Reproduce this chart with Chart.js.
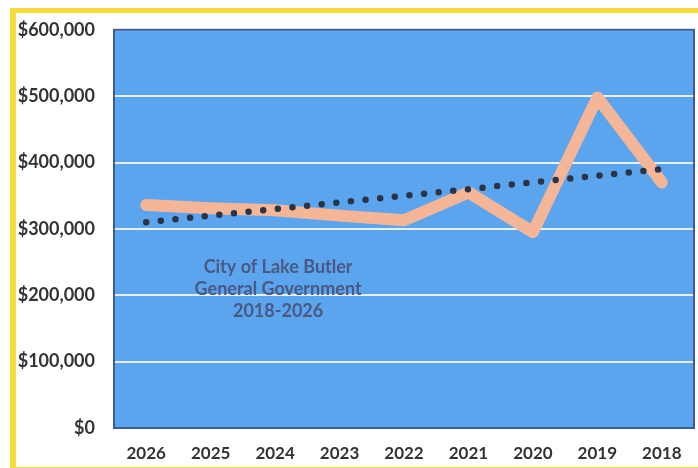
<!DOCTYPE html>
<html>
<head>
<meta charset="utf-8">
<script src="https://cdn.jsdelivr.net/npm/chart.js@4"></script>
<style>
  html, body { margin: 0; padding: 0; background: #fff; }
  #wrap { position: relative; width: 698px; height: 468px; overflow: hidden; }
  #frame {
    position: absolute; left: 10px; top: 8px; width: 720px; height: 454px;
    border-left: 6px solid #f6dc3a; border-top: 5px solid #f6dc3a; border-bottom: 5px solid #f6dc3a;
  }
  #chart { position: absolute; left: 0; top: 0; }
</style>
</head>
<body>
<div id="wrap">
  <div id="frame"></div>
  <canvas id="chart" width="698" height="468"></canvas>
</div>
<script>
const years = ["2026", "2025", "2024", "2023", "2022", "2021", "2020", "2019", "2018"];
const spending = [336000, 331000, 328000, 320000, 313000, 355000, 295000, 498000, 370000];
// trend line only has its two ends, the rest is spanned
const trend = [310000, null, null, null, null, null, null, null, 390000];
const titleLines = ["City of Lake Butler", "General Government", "2018-2026"];

const plotBox = {
  id: 'plotBox',
  beforeDraw(c) {
    const a = c.chartArea, ctx = c.ctx;
    ctx.save();
    ctx.fillStyle = "#5ba4ee";
    ctx.fillRect(a.left, a.top, a.right - a.left, a.bottom - a.top);
    ctx.restore();
  },
  afterDatasetsDraw(c) {
    const a = c.chartArea, ctx = c.ctx;
    ctx.save();
    ctx.strokeStyle = "#3a5c93";
    ctx.lineWidth = 2;
    ctx.strokeRect(a.left, a.top, a.right - a.left, a.bottom - a.top);
    ctx.restore();
  },
  beforeDatasetsDraw(c) {
    const ctx = c.ctx;
    const x = c.scales.x.getPixelForValue(2) + 3;
    let y = c.scales.y.getPixelForValue(243000);
    ctx.save();
    ctx.fillStyle = "#4a5983";
    ctx.font = "bold 18px Lato";
    ctx.textAlign = "center";
    ctx.textBaseline = "middle";
    titleLines.forEach(t => { ctx.fillText(t, x, y); y += 22; });
    ctx.restore();
  }
};

new Chart(document.getElementById("chart"), {
  type: 'line',
  data: {
    labels: years,
    datasets: [
      {
        data: trend,
        spanGaps: true,
        borderColor: "#2b3446",
        borderWidth: 6.5,
        borderDash: [0, 14.7],
        borderCapStyle: 'round',
        pointRadius: 0
      },
      {
        data: spending,
        borderColor: "#f5b698",
        borderWidth: 12,
        borderCapStyle: 'round',
        borderJoinStyle: 'round',
        pointRadius: 0,
        tension: 0
      }
    ]
  },
  options: {
    responsive: false,
    animation: false,
    layout: { padding: { left: 0, right: 4, top: 27, bottom: 0 } },
    plugins: { legend: { display: false }, tooltip: { enabled: false } },
    scales: {
      x: {
        offset: true,
        grid: { display: false, drawTicks: false },
        border: { display: false },
        afterFit: s => { s.height = 40; },
        ticks: { padding: 15, color: "#333", font: { family: "Lato", size: 17, weight: "bold" } }
      },
      y: {
        min: 0,
        max: 600000,
        grid: { color: "#e6f1fd", lineWidth: 2, drawTicks: false },
        border: { display: false },
        afterFit: s => { s.width = 114; },
        ticks: {
          stepSize: 100000,
          padding: 19,
          color: "#333",
          font: { family: "Lato", size: 18, weight: "bold" },
          callback: v => "$" + v.toLocaleString("en-US")
        }
      }
    }
  },
  plugins: [plotBox]
});
</script>
</body>
</html>
